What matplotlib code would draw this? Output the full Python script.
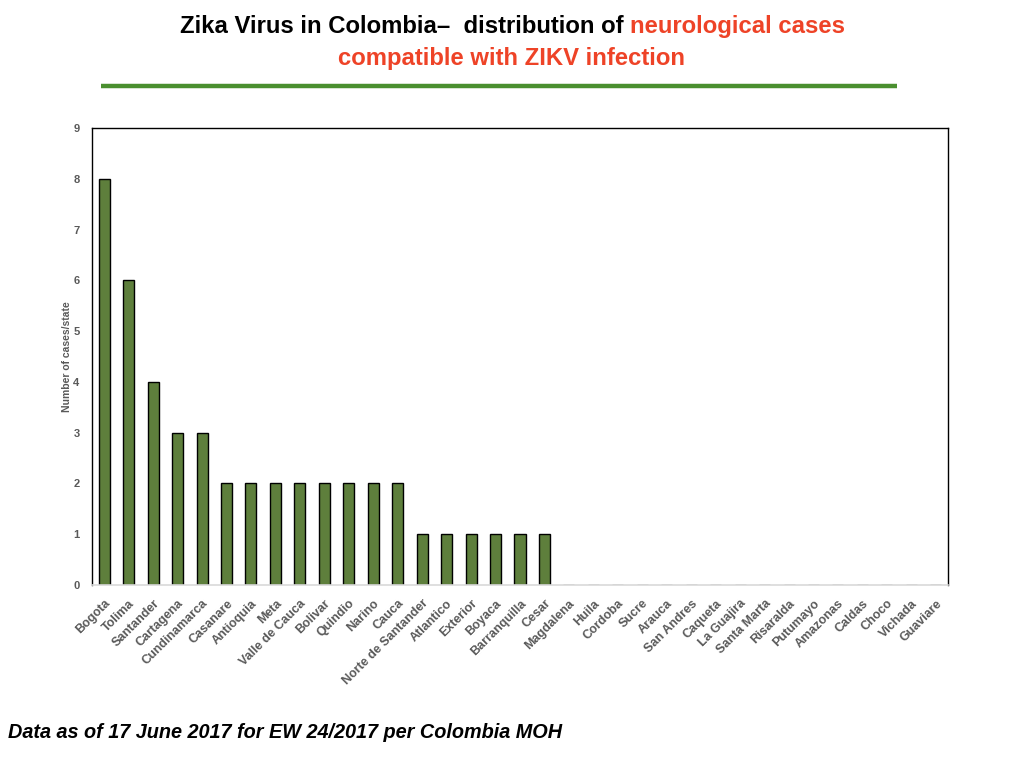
import numpy as np
import matplotlib.pyplot as plt
from matplotlib.lines import Line2D

plt.rcParams['font.family'] = ['Liberation Sans', 'DejaVu Sans']

regions = ['Bogota', 'Tolima', 'Santander', 'Cartagena', 'Cundinamarca', 'Casanare',
           'Antioquia', 'Meta', 'Valle de Cauca', 'Bolivar', 'Quindio', 'Narino', 'Cauca',
           'Norte de Santander', 'Atlantico', 'Exterior', 'Boyaca', 'Barranquilla', 'Cesar',
           'Magdalena', 'Huila', 'Cordoba', 'Sucre', 'Arauca', 'San Andres', 'Caqueta',
           'La Guajira', 'Santa Marta', 'Risaralda', 'Putumayo', 'Amazonas', 'Caldas',
           'Choco', 'Vichada', 'Guaviare']
cases = [8, 6, 4, 3, 3, 2, 2, 2, 2, 2, 2, 2, 2, 1, 1, 1, 1, 1, 1,
         0, 0, 0, 0, 0, 0, 0, 0, 0, 0, 0, 0, 0, 0, 0, 0]
yticks = list(range(0, 10))

bar_color = '#5e7f3c'
grey = '#595959'
red = '#ee4327'

fig = plt.figure(figsize=(10.24, 7.68), dpi=100)
ax = fig.add_axes([92 / 1024, 1 - 585 / 768, (948 - 92) / 1024, (585 - 128) / 768])

x = np.arange(len(regions))
ax.bar(x, cases, width=0.45, color=bar_color, edgecolor='black', linewidth=1)
ax.set_xlim(-0.5, len(regions) - 0.5)
ax.set_ylim(0, 9)
ax.set_yticks(yticks)
ax.set_yticklabels([str(t) for t in yticks], fontsize=8, fontweight='bold', color=grey)
ax.set_xticks(x)
ax.set_xticklabels(regions, rotation=45, ha='right', rotation_mode='anchor',
                   fontsize=9, fontweight='bold', color=grey)
ax.tick_params(axis='y', length=0, pad=9)
ax.tick_params(axis='x', length=0, pad=9)
ax.set_ylabel('Number of cases/state', fontsize=7.5, fontweight='bold', color=grey, labelpad=1)

for s in ['left', 'top', 'right']:
    ax.spines[s].set_color('black')
    ax.spines[s].set_linewidth(1)
ax.spines['bottom'].set_color('#d9d9d9')
ax.spines['bottom'].set_linewidth(1.2)

# title, two colours on the first line
fig.canvas.draw()
r = fig.canvas.get_renderer()
t1 = fig.text(180 / 1024, 1 - 33 / 768, 'Zika Virus in Colombia\u2013  distribution of ',
              fontsize=17.2, fontweight='bold', color='black', va='baseline', ha='left')
ext = t1.get_window_extent(renderer=r)
fig.text(ext.x1 / fig.bbox.width, 1 - 33 / 768, 'neurological cases',
         fontsize=17.2, fontweight='bold', color=red, va='baseline', ha='left')
fig.text(512 / 1024, 1 - 65 / 768, 'compatible with ZIKV infection',
         fontsize=17.2, fontweight='bold', color=red, va='baseline', ha='center')

fig.add_artist(Line2D([101 / 1024, 897 / 1024], [1 - 86 / 768, 1 - 86 / 768],
                      color='#4a8f2f', linewidth=3.2, solid_capstyle='butt',
                      transform=fig.transFigure))

fig.text(8 / 1024, 1 - 733 / 768, 'Data as of 17 June 2017 for EW 24/2017 per Colombia MOH',
         fontsize=14.3, fontweight='bold', fontstyle='italic', color='black', va='center', ha='left')

fig.savefig('out.png', dpi=100)
